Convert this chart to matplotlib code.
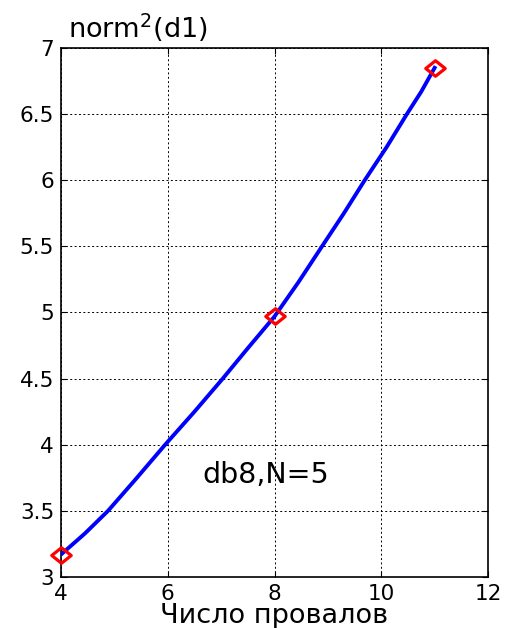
import matplotlib
matplotlib.use('Agg')
import matplotlib.pyplot as plt
from matplotlib.path import Path

plt.rcParams['font.family'] = ['DejaVu Sans']

# точки кривой
curve_x = [4.0, 4.45, 4.88, 5.4, 5.95, 6.5, 7.03, 7.5, 8.0, 8.45, 8.89, 9.3, 9.69, 10.1, 10.48, 10.75, 11.0]
curve_y = [3.17, 3.33, 3.5, 3.74, 4.0, 4.25, 4.5, 4.73, 4.97, 5.23, 5.5, 5.75, 6.0, 6.25, 6.5, 6.67, 6.85]
# отмеченные точки
mark_x = [4, 8, 11]
mark_y = [3.17, 4.97, 6.85]

xticks = [4, 6, 8, 10, 12]
yticks = [3, 3.5, 4, 4.5, 5, 5.5, 6, 6.5, 7]
ytick_labels = ['3', '3.5', '4', '4.5', '5', '5.5', '6', '6.5', '7']

# ромб, растянутый по горизонтали
wide_diamond = Path([(-1, 0), (0, 0.8), (1, 0), (0, -0.8), (-1, 0)],
                    [Path.MOVETO, Path.LINETO, Path.LINETO, Path.LINETO, Path.CLOSEPOLY])

fig = plt.figure(figsize=(5.06, 6.28), dpi=100)
ax = fig.add_axes([0.1206, 0.0812, 0.8438, 0.8424])

ax.plot(curve_x, curve_y, color='blue', lw=2.8, zorder=3)
ax.plot(mark_x, mark_y, marker=wide_diamond, ls='none', ms=14, mfc='none', mec='red', mew=2.3,
        zorder=4, clip_on=False)

ax.set_xlim(4, 12)
ax.set_ylim(3, 7)
ax.set_xticks(xticks)
ax.set_yticks(yticks)
ax.set_yticklabels(ytick_labels)
ax.tick_params(direction='in', length=4, width=0.8, labelsize=15.5, top=True, right=True, pad=5)
ax.grid(True, color='black', linestyle=(0, (2, 2.5)), lw=0.7)
for s in ax.spines.values():
    s.set_linewidth(1.2)

ax.text(6.64, 3.71, 'db8,N=5', fontsize=20.5, ha='left', va='baseline')
ax.text(0.016, 1.019, 'norm$^2$(d1)', transform=ax.transAxes, fontsize=19.5, ha='left', va='baseline')
ax.set_xlabel('Число провалов', fontsize=19.5, labelpad=-1)

fig.savefig('out.png', dpi=100)
